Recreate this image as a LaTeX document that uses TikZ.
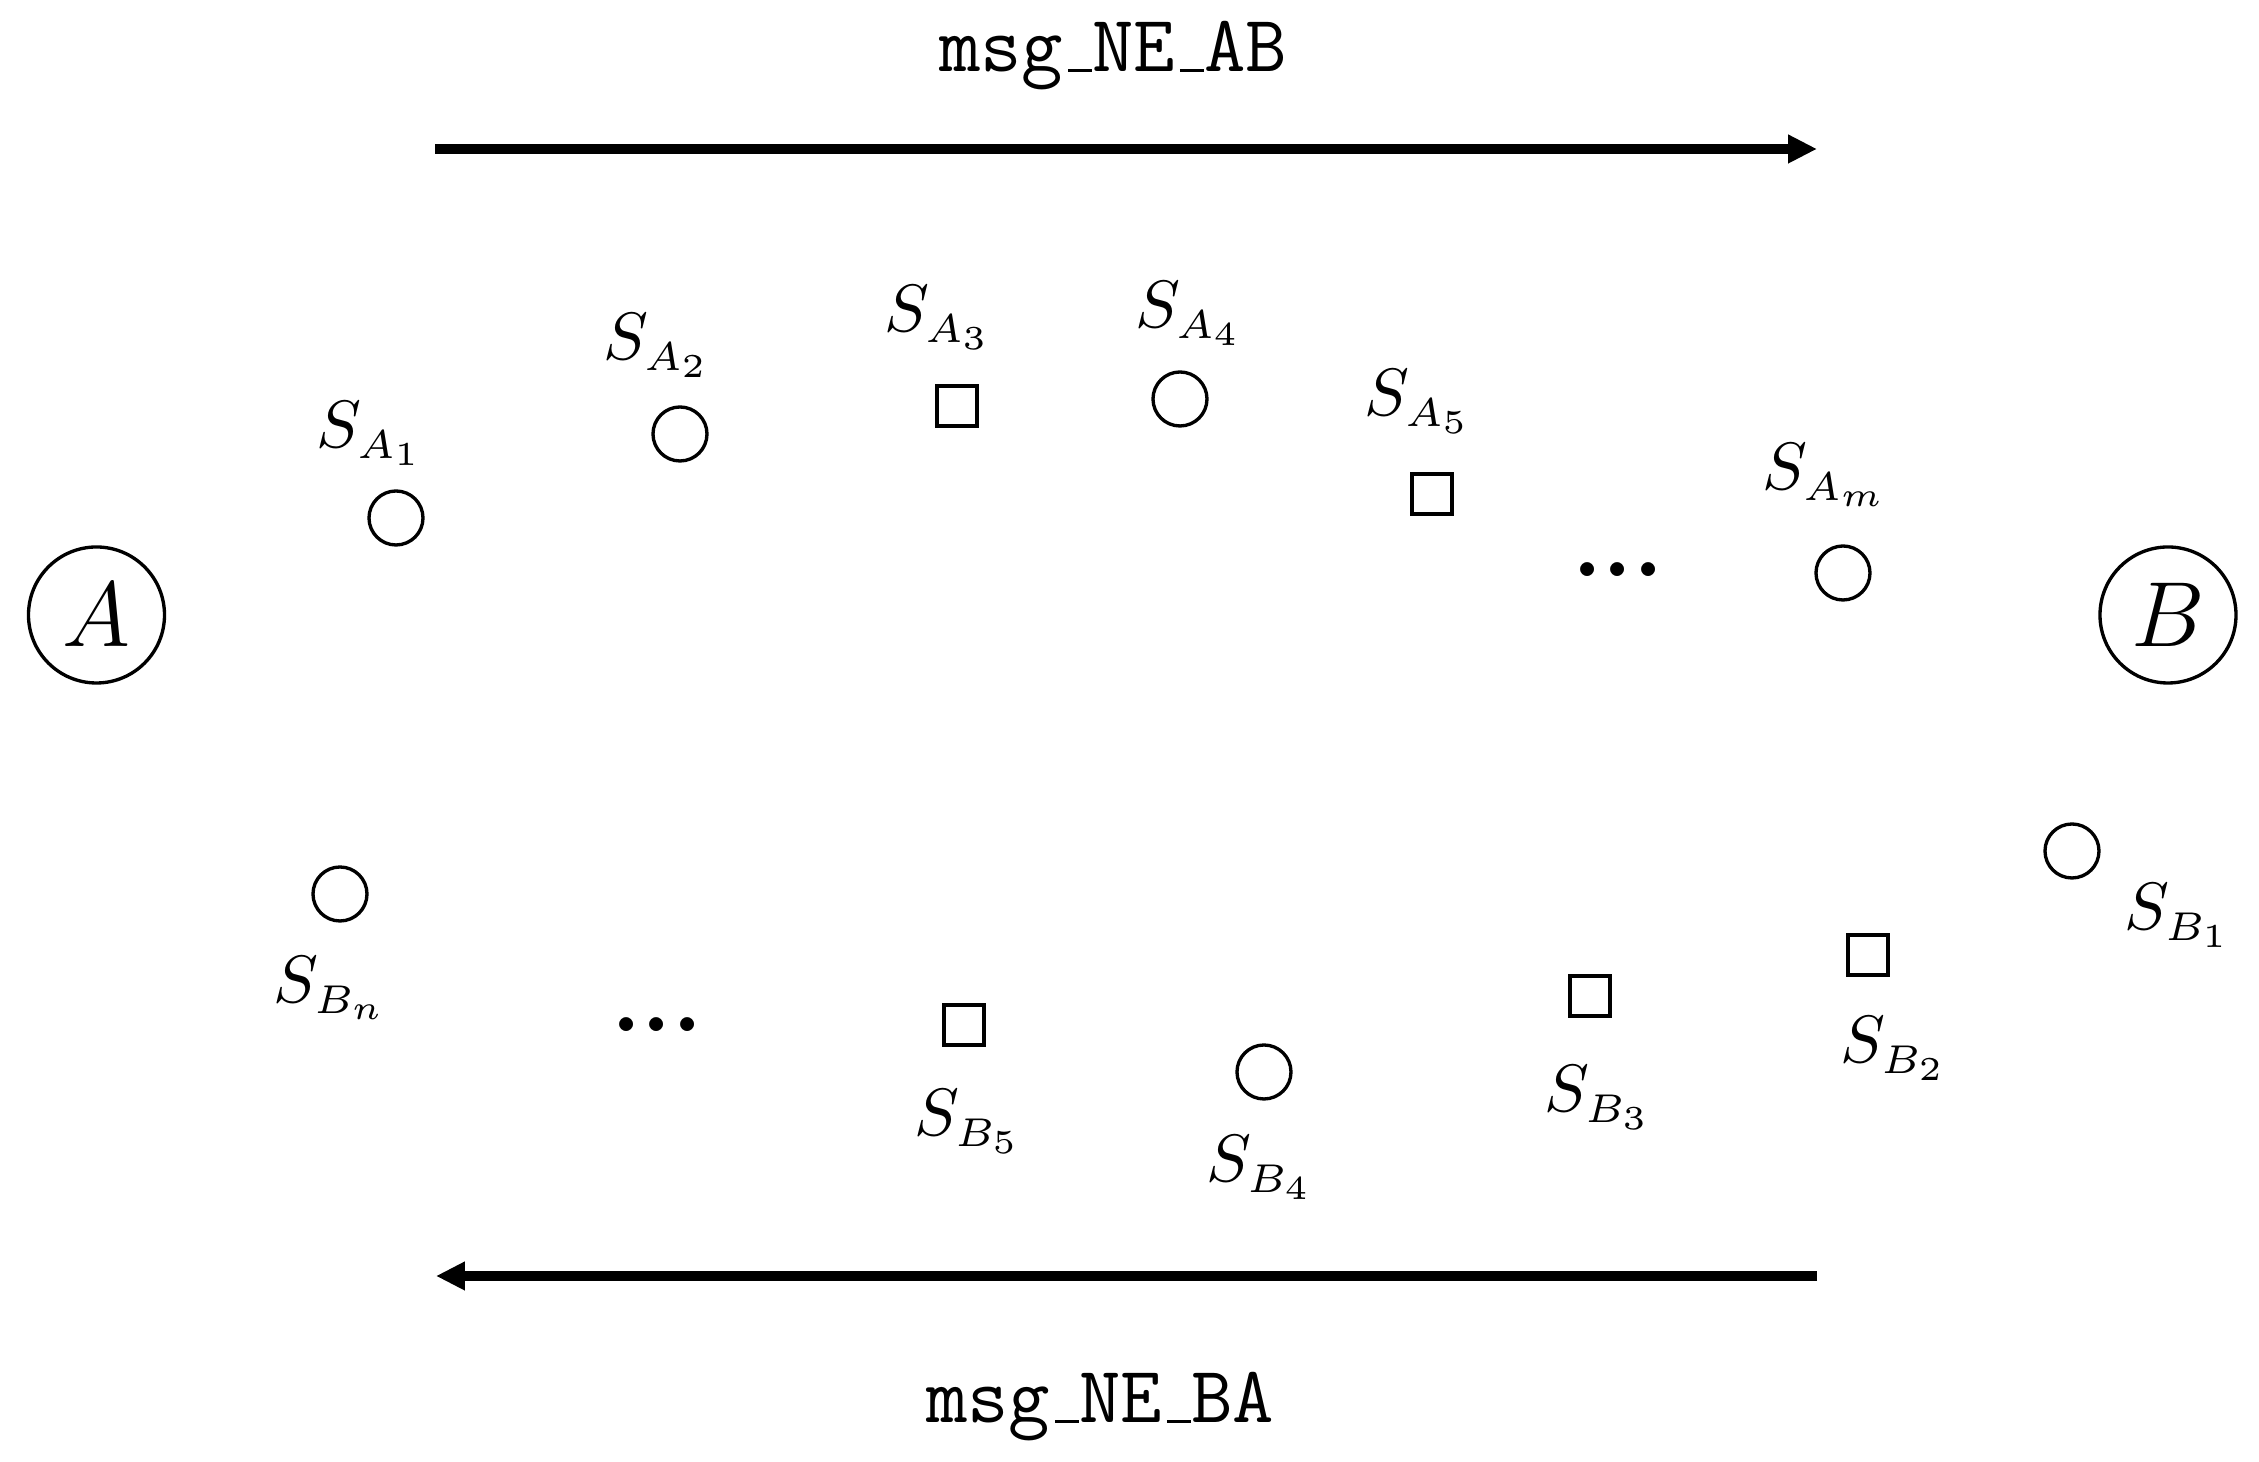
\RequirePackage{fix-cm}
\documentclass[tikz,border=0pt]{standalone}
\usepackage[no-math]{fontspec}
\DeclareMathSizes{10}{10}{6}{5}
\DeclareMathSizes{13.8}{13.8}{9}{7}
\usetikzlibrary{arrows.meta}
\newcommand\ttusc{\leavevmode\kern.06em\vbox{\hrule width.3em height 0.45pt}}
\tikzset{
 bignode/.style={circle,draw,line width=0.5pt,minimum size=20.3pt,inner sep=0pt,font=\fontsize{13.8}{16}\selectfont},
 smallcirc/.style={circle,draw,line width=0.5pt,minimum size=8.06pt,inner sep=0pt},
 smallsq/.style={rectangle,draw,line width=0.5pt,minimum size=5.97pt,inner sep=0pt},
 lab/.style={anchor=base west,inner sep=0pt},
 msglab/.style={anchor=base,inner sep=0pt,font=\fontsize{12}{14}\selectfont\ttfamily},
 dotsnode/.style={inner sep=0pt,font=\fontsize{14.4}{17}\selectfont\bfseries},
 msgarrow/.style={line width=1.5pt,-{Triangle[length=4.3pt,width=4pt]}}
}
\begin{document}
\begin{tikzpicture}[x=0.14925pt,y=-0.14925pt]
\useasboundingbox (0,0) rectangle (2259,1462);
% end nodes
\node[bignode] (A) at (96.5,615) {$A$};
\node[bignode] (B) at (2168,615) {$B$};
% upper row
\node[smallcirc] (sa1) at (396,518) {};
\node[smallcirc] (sa2) at (680,434) {};
\node[smallsq]   (sa3) at (957,406) {};
\node[smallcirc] (sa4) at (1180,399) {};
\node[smallsq]   (sa5) at (1432,494) {};
\node[dotsnode]  (dA)  at (1618,570) {...};
\node[smallcirc] (sam) at (1843,573) {};
\node[lab] (la1) at (315,448) {$S_{A_1}$};
\node[lab] (la2) at (602,360) {$S_{A_2}$};
\node[lab] (la3) at (883,332) {$S_{A_3}$};
\node[lab] (la4) at (1134,328) {$S_{A_4}$};
\node[lab] (la5) at (1363,416) {$S_{A_5}$};
\node[lab] (lam) at (1761,490) {$S_{A_m}$};
% lower row
\node[smallcirc] (sbn) at (340,894) {};
\node[dotsnode]  (dB)  at (657,1025) {...};
\node[smallsq]   (sb5) at (964,1025) {};
\node[smallcirc] (sb4) at (1264,1072) {};
\node[smallsq]   (sb3) at (1590,996) {};
\node[smallsq]   (sb2) at (1868,955) {};
\node[smallcirc] (sb1) at (2072,851) {};
\node[lab] (lbn) at (272,1003) {$S_{B_n}$};
\node[lab] (lb5) at (913,1136) {$S_{B_5}$};
\node[lab] (lb4) at (1205,1182) {$S_{B_4}$};
\node[lab] (lb3) at (1543,1112) {$S_{B_3}$};
\node[lab] (lb2) at (1839,1063) {$S_{B_2}$};
\node[lab] (lb1) at (2123,930) {$S_{B_1}$};
% messages
\coordinate (t1) at (435,149);
\coordinate (t2) at (1817,149);
\coordinate (b1) at (1817,1276);
\coordinate (b2) at (436,1276);
\draw[msgarrow] (t1) -- (t2);
\draw[msgarrow] (b1) -- (b2);
\node[msglab] (mab) at (1113,72) {msg\ttusc NE\ttusc AB};
\node[msglab] (mba) at (1100,1423) {msg\ttusc NE\ttusc BA};
\end{tikzpicture}
\end{document}
